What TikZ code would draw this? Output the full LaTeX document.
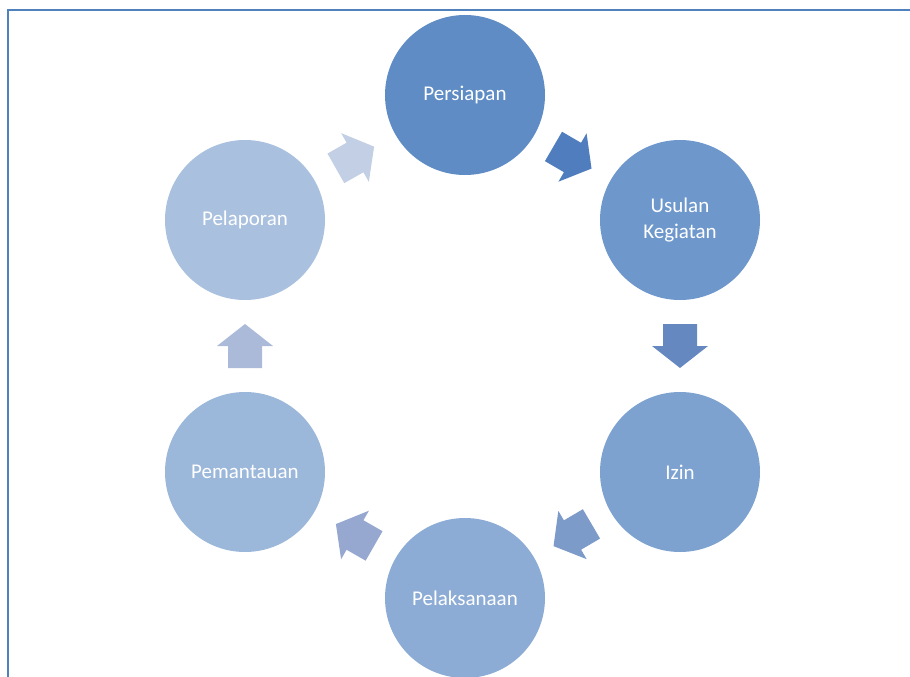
\documentclass[tikz,border=0pt]{standalone}
\usepackage{fontspec}
\setmainfont{Carlito}
\usetikzlibrary{calc}
\definecolor{frameblue}{RGB}{79,129,189}
\definecolor{c1}{RGB}{95,140,197}
\definecolor{c2}{RGB}{110,151,203}
\definecolor{c3}{RGB}{125,162,208}
\definecolor{c4}{RGB}{140,172,213}
\definecolor{c5}{RGB}{155,183,218}
\definecolor{c6}{RGB}{169,193,223}
\definecolor{a1}{RGB}{79,125,190}
\definecolor{a2}{RGB}{102,136,192}
\definecolor{a3}{RGB}{124,155,201}
\definecolor{a4}{RGB}{150,168,207}
\definecolor{a5}{RGB}{172,186,217}
\definecolor{a6}{RGB}{195,207,228}
\newcommand\myblockarrow[3]{%
  \pgfpointdiff{\pgfpointanchor{#1}{center}}{\pgfpointanchor{#2}{center}}%
  \pgfgetlastxy{\myadx}{\myady}%
  \pgfmathsetmacro\myarrang{atan2(\myady,\myadx)}%
  \begin{scope}[shift={($(#1)!0.5!(#2)$)}, rotate=\myarrang]
    \fill[#3] (-22,-17) -- (0,-17) -- (0,-28) -- (22,0) -- (0,28) -- (0,17) -- (-22,17) -- cycle;
  \end{scope}}
\begin{document}
\begin{tikzpicture}[x=1pt,y=-1pt,
  stage/.style={circle, minimum size=160pt, inner sep=0pt, text=white,
    font=\fontsize{21}{25.6}\selectfont, align=center},
  frameline/.style={draw=frameblue, line width=2pt}]
\useasboundingbox (0,0) rectangle (910,677);
\draw[frameline] (8,678) -- (8,10) -- (911,10);
\node[stage, fill=c1] (p1) at (465,95) {Persiapan};
\node[stage, fill=c2] (p2) at (680,220) {Usulan\\Kegiatan};
\node[stage, fill=c3] (p3) at (680,472) {Izin};
\node[stage, fill=c4] (p4) at (465,598) {Pelaksanaan};
\node[stage, fill=c5] (p5) at (245,472) {Pemantauan};
\node[stage, fill=c6] (p6) at (245,220) {Pelaporan};
\myblockarrow{p1}{p2}{a1}
\myblockarrow{p2}{p3}{a2}
\myblockarrow{p3}{p4}{a3}
\myblockarrow{p4}{p5}{a4}
\myblockarrow{p5}{p6}{a5}
\myblockarrow{p6}{p1}{a6}
\end{tikzpicture}
\end{document}
